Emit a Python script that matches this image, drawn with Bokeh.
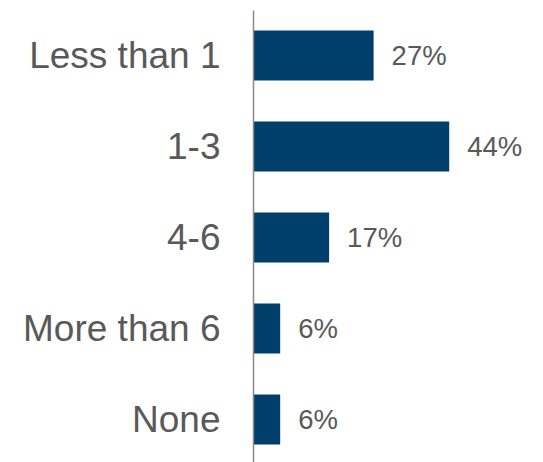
from bokeh.plotting import figure
from bokeh.models import ColumnDataSource, Range1d, FixedTicker
from bokeh.core.properties import value
from bokeh.embed import file_html
from bokeh.resources import INLINE

categories = ["Less than 1", "1-3", "4-6", "More than 6", "None"]
percents = [27, 44, 17, 6, 6]

n = len(categories)
ypos = [n - 1 - i for i in range(n)]
labels = [f"{v}%" for v in percents]

src = ColumnDataSource(dict(y=ypos, v=percents, lab=labels))

p = figure(width=543, height=462, output_backend="svg", toolbar_location=None,
           x_axis_location=None,
           x_range=Range1d(0, 65.2), y_range=Range1d(-0.4725, n - 1 + 0.4945),
           min_border_left=253, min_border_right=0, min_border_top=10, min_border_bottom=0)

p.hbar(y="y", right="v", left=0, height=0.55, source=src,
       fill_color="#003F6A", line_color=None)

p.text(x="v", y="y", text="lab", source=src, x_offset=18,
       text_align="left", text_baseline="middle",
       text_font=value("Liberation Sans"), text_font_size="27.5px",
       text_color="#595959")

ax = p.yaxis[0]
ax.ticker = FixedTicker(ticks=ypos)
ax.major_label_overrides = {y: c for y, c in zip(ypos, categories)}
ax.major_label_text_font = "Liberation Sans"
ax.major_label_text_font_size = "37px"
ax.major_label_text_color = "#595959"
ax.major_label_standoff = 33
ax.major_tick_line_color = None
ax.minor_tick_line_color = None
ax.major_tick_out = 0
ax.major_tick_in = 0
ax.axis_line_color = "#898989"
ax.axis_line_width = 1.5

p.xgrid.visible = False
p.ygrid.visible = False
p.outline_line_color = None

open("out.html", "w").write(file_html(p, INLINE))
